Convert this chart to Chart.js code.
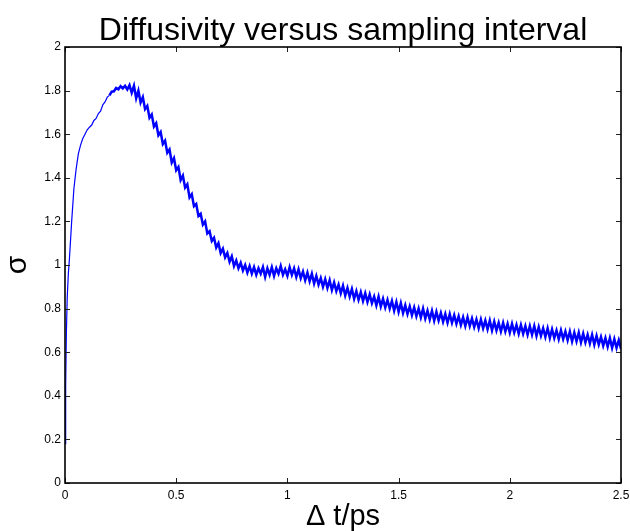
<!DOCTYPE html>
<html>
<head>
<meta charset="utf-8">
<script src="https://cdn.jsdelivr.net/npm/chart.js@4"></script>
<style>
  html, body { margin: 0; padding: 0; background: #fff; }
  #wrap { width: 630px; height: 531px; }
</style>
</head>
<body>
<div id="wrap"><canvas id="diffusivityChart" width="630" height="531"></canvas></div>
<script>
const chartTitle = 'Diffusivity versus sampling interval';
const xTitle = '\u0394 t/ps';
const yTitle = '\u03c3';
const xTicks = [0, 0.5, 1, 1.5, 2, 2.5];
const yTicks = [0, 0.2, 0.4, 0.6, 0.8, 1, 1.2, 1.4, 1.6, 1.8, 2];

// sampling interval (ps)
const dt = [
    0, 0.003, 0.006, 0.01, 0.015, 0.02, 0.03, 0.04, 0.05, 0.06, 0.07, 0.08, 0.09,
    0.10, 0.11, 0.12, 0.13, 0.14, 0.15, 0.16, 0.17, 0.18, 0.19,
    0.20, 0.21, 0.22, 0.23, 0.24, 0.25, 0.26, 0.27, 0.28, 0.29,
    0.30, 0.31, 0.32, 0.33, 0.34, 0.35, 0.36, 0.37, 0.38, 0.39,
    0.40, 0.41, 0.42, 0.43, 0.44, 0.45, 0.46, 0.47, 0.48, 0.49,
    0.50, 0.51, 0.52, 0.53, 0.54, 0.55, 0.56, 0.57, 0.58, 0.59,
    0.60, 0.61, 0.62, 0.63, 0.64, 0.65, 0.66, 0.67, 0.68, 0.69,
    0.70, 0.71, 0.72, 0.73, 0.74, 0.75, 0.76, 0.77, 0.78, 0.79,
    0.80, 0.81, 0.82, 0.83, 0.84, 0.85, 0.86, 0.87, 0.88, 0.89,
    0.90, 0.91, 0.92, 0.93, 0.94, 0.95, 0.96, 0.97, 0.98, 0.99,
    1.00, 1.01, 1.02, 1.03, 1.04, 1.05, 1.06, 1.07, 1.08, 1.09,
    1.10, 1.11, 1.12, 1.13, 1.14, 1.15, 1.16, 1.17, 1.18, 1.19,
    1.20, 1.21, 1.22, 1.23, 1.24, 1.25, 1.26, 1.27, 1.28, 1.29,
    1.30, 1.31, 1.32, 1.33, 1.34, 1.35, 1.36, 1.37, 1.38, 1.39,
    1.40, 1.41, 1.42, 1.43, 1.44, 1.45, 1.46, 1.47, 1.48, 1.49,
    1.50, 1.51, 1.52, 1.53, 1.54, 1.55, 1.56, 1.57, 1.58, 1.59,
    1.60, 1.61, 1.62, 1.63, 1.64, 1.65, 1.66, 1.67, 1.68, 1.69,
    1.70, 1.71, 1.72, 1.73, 1.74, 1.75, 1.76, 1.77, 1.78, 1.79,
    1.80, 1.81, 1.82, 1.83, 1.84, 1.85, 1.86, 1.87, 1.88, 1.89,
    1.90, 1.91, 1.92, 1.93, 1.94, 1.95, 1.96, 1.97, 1.98, 1.99,
    2.00, 2.01, 2.02, 2.03, 2.04, 2.05, 2.06, 2.07, 2.08, 2.09,
    2.10, 2.11, 2.12, 2.13, 2.14, 2.15, 2.16, 2.17, 2.18, 2.19,
    2.20, 2.21, 2.22, 2.23, 2.24, 2.25, 2.26, 2.27, 2.28, 2.29,
    2.30, 2.31, 2.32, 2.33, 2.34, 2.35, 2.36, 2.37, 2.38, 2.39,
    2.40, 2.41, 2.42, 2.43, 2.44, 2.45, 2.46, 2.47, 2.48, 2.49,
    2.50
];

// diffusivity sigma (noise band included)
const sigma = [
    0.18, 0.45, 0.68, 0.85, 0.96, 1.03, 1.20, 1.35, 1.44, 1.51, 1.55, 1.58, 1.60,
    1.620, 1.632, 1.642, 1.663, 1.672, 1.695, 1.706, 1.735, 1.748, 1.770,
    1.778, 1.795, 1.797, 1.812, 1.806, 1.820, 1.810, 1.822, 1.805, 1.825,
    1.790, 1.822, 1.765, 1.800, 1.745, 1.770, 1.715, 1.730, 1.675, 1.690,
    1.635, 1.650, 1.595, 1.610, 1.555, 1.570, 1.515, 1.530, 1.470, 1.490,
    1.435, 1.450, 1.390, 1.410, 1.355, 1.370, 1.310, 1.325, 1.270, 1.280,
    1.225, 1.235, 1.185, 1.200, 1.145, 1.155, 1.110, 1.125, 1.080, 1.100,
    1.055, 1.075, 1.035, 1.055, 1.015, 1.040, 0.995, 1.020, 0.985, 1.010,
    0.975, 1.000, 0.965, 0.995, 0.960, 0.990, 0.955, 0.985, 0.960, 0.990,
    0.945, 0.985, 0.955, 0.990, 0.950, 0.985, 0.960, 0.995, 0.955, 0.980,
    0.950, 0.990, 0.955, 0.985, 0.945, 0.980, 0.940, 0.970, 0.930, 0.965,
    0.925, 0.960, 0.915, 0.950, 0.910, 0.940, 0.900, 0.935, 0.895, 0.930,
    0.885, 0.920, 0.880, 0.910, 0.870, 0.905, 0.860, 0.895, 0.855, 0.890,
    0.845, 0.880, 0.840, 0.875, 0.835, 0.870, 0.830, 0.865, 0.825, 0.855,
    0.815, 0.855, 0.810, 0.845, 0.805, 0.840, 0.800, 0.835, 0.790, 0.830,
    0.785, 0.825, 0.780, 0.815, 0.775, 0.810, 0.770, 0.805, 0.765, 0.800,
    0.760, 0.800, 0.755, 0.790, 0.750, 0.790, 0.745, 0.785, 0.745, 0.780,
    0.740, 0.775, 0.735, 0.775, 0.735, 0.770, 0.730, 0.765, 0.725, 0.760,
    0.720, 0.760, 0.720, 0.755, 0.715, 0.750, 0.710, 0.750, 0.710, 0.745,
    0.705, 0.745, 0.700, 0.740, 0.700, 0.735, 0.695, 0.735, 0.695, 0.730,
    0.690, 0.730, 0.690, 0.725, 0.685, 0.725, 0.685, 0.720, 0.680, 0.720,
    0.680, 0.720, 0.675, 0.715, 0.675, 0.710, 0.670, 0.710, 0.665, 0.705,
    0.665, 0.700, 0.660, 0.700, 0.660, 0.695, 0.655, 0.695, 0.650, 0.690,
    0.650, 0.690, 0.645, 0.685, 0.645, 0.680, 0.640, 0.680, 0.635, 0.675,
    0.635, 0.670, 0.630, 0.665, 0.625, 0.665, 0.620, 0.660, 0.620, 0.655,
    0.615
];

const FONT = '"Liberation Sans", Arial, Helvetica, sans-serif';

// box round the plot, inward ticks on all four sides, and the title
const frameTicks = {
    id: 'frameTicks',
    afterDraw(chart) {
        const ctx = chart.ctx;
        const a = chart.chartArea;
        const xs = chart.scales.x, ys = chart.scales.y;
        const len = 5;
        ctx.save();
        ctx.strokeStyle = '#222';
        ctx.lineWidth = 1;
        ctx.beginPath();
        xTicks.forEach(v => {
            const px = Math.round(xs.getPixelForValue(v)) + 0.5;
            ctx.moveTo(px, a.bottom); ctx.lineTo(px, a.bottom - len);
            ctx.moveTo(px, a.top); ctx.lineTo(px, a.top + len);
        });
        yTicks.forEach(v => {
            const py = Math.round(ys.getPixelForValue(v)) + 0.5;
            ctx.moveTo(a.left, py); ctx.lineTo(a.left + len, py);
            ctx.moveTo(a.right, py); ctx.lineTo(a.right - len, py);
        });
        ctx.stroke();
        ctx.strokeStyle = '#000';
        ctx.lineWidth = 1.6;
        ctx.strokeRect(a.left, a.top, a.right - a.left, a.bottom - a.top);

        ctx.fillStyle = '#000';
        ctx.font = '32px ' + FONT;
        ctx.textAlign = 'center';
        ctx.textBaseline = 'alphabetic';
        ctx.fillText(chartTitle, (a.left + a.right) / 2, 40);
        ctx.restore();
    }
};

new Chart(document.getElementById('diffusivityChart'), {
    type: 'line',
    data: {
        datasets: [{
            label: 'sigma',
            data: dt.map((t, i) => ({ x: t, y: sigma[i] })),
            borderColor: 'rgb(0, 0, 255)',
            borderWidth: 1.2,
            segment: {
                borderWidth: c => (c.p0.parsed.x >= 0.2 ? 2.5 : 1.2)
            },
            pointRadius: 0,
            tension: 0,
            fill: false
        }]
    },
    options: {
        responsive: false,
        animation: false,
        layout: { padding: { top: 47, right: 9, left: 0, bottom: 0 } },
        plugins: {
            legend: { display: false },
            tooltip: { enabled: false },
            title: { display: false }
        },
        scales: {
            x: {
                type: 'linear',
                min: 0,
                max: 2.5,
                afterFit: s => {
                    s.height = 48;
                    s.paddingLeft = 0;
                    s.paddingRight = 0;
                },
                afterBuildTicks: s => { s.ticks = xTicks.map(v => ({ value: v })); },
                grid: { display: false, drawTicks: false },
                border: { display: false },
                ticks: {
                    color: '#000',
                    padding: 5,
                    maxRotation: 0,
                    font: { family: FONT, size: 12 },
                    callback: v => String(v)
                },
                title: {
                    display: true,
                    text: xTitle,
                    color: '#000',
                    padding: { top: 0, bottom: -3 },
                    font: { family: FONT, size: 29 }
                }
            },
            y: {
                type: 'linear',
                min: 0,
                max: 2,
                afterFit: s => {
                    s.width = 65;
                    s.paddingTop = 0;
                    s.paddingBottom = 0;
                },
                afterBuildTicks: s => { s.ticks = yTicks.map(v => ({ value: v })); },
                grid: { display: false, drawTicks: false },
                border: { display: false },
                ticks: {
                    color: '#000',
                    padding: 4,
                    font: { family: FONT, size: 12 },
                    callback: v => String(v)
                },
                title: {
                    display: true,
                    text: yTitle,
                    color: '#000',
                    padding: { top: 0, bottom: 0 },
                    font: { family: FONT, size: 30 }
                }
            }
        }
    },
    plugins: [frameTicks]
});
</script>
</body>
</html>
